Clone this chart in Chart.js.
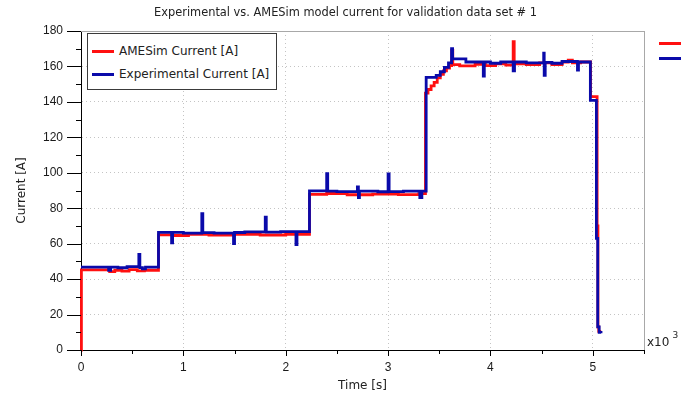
<!DOCTYPE html>
<html><head><meta charset="utf-8">
<script src="https://cdn.jsdelivr.net/npm/chart.js@4"></script>
<style>
html,body{margin:0;padding:0;background:#fff;}
#wrap{position:relative;width:691px;height:400px;font-family:"DejaVu Sans",Verdana,sans-serif;color:#222;overflow:hidden;}
#c{position:absolute;left:0;top:0;}
#title{position:absolute;left:0;width:691px;top:5px;text-align:center;font-size:11.4px;}
#legend{position:absolute;left:87px;top:33px;width:190px;height:57px;border:1px solid #3a3a3a;background:#fff;box-sizing:border-box;font-size:12px;}
.lg{position:absolute;left:0;height:14px;line-height:14px;}
.sw{position:absolute;left:4px;top:6px;width:22px;height:3px;}
.tx{position:absolute;left:31px;top:0;white-space:nowrap;}
.frag{position:absolute;left:659px;width:22px;height:3px;}
#mult{position:absolute;left:647px;top:335px;font-size:12px;white-space:nowrap;}
#mult sup{font-size:9px;vertical-align:top;position:relative;top:-5px;margin-left:3px;}
</style></head>
<body>
<div id="wrap">
<canvas id="c" width="691" height="400"></canvas>
<div id="title">Experimental vs. AMESim model current for validation data set # 1</div>
<div id="legend">
  <div class="lg" style="top:10px"><div class="sw" style="background:#ff1010"></div><div class="tx">AMESim Current [A]</div></div>
  <div class="lg" style="top:33px"><div class="sw" style="background:#0a0aaa"></div><div class="tx">Experimental Current [A]</div></div>
</div>
<div class="frag" style="top:42px;background:#ff1010"></div>
<div class="frag" style="top:57px;background:#0a0aaa"></div>
<div id="mult">x10<sup>3</sup></div>
</div>
<script>
// Time in thousands of seconds (axis multiplier x10^3)
const amesimTime = [0,0.004,0.28,0.33,0.40,0.47,0.55,0.62,0.757,0.90,1.05,1.25,1.50,1.75,2.00,2.232,2.40,2.60,2.85,3.10,3.30,3.365,3.39,3.42,3.45,3.48,3.51,3.54,3.57,3.60,3.622,3.632,3.70,3.85,3.95,4.05,4.15,4.222,4.232,4.35,4.48,4.60,4.70,4.76,4.80,4.88,4.978,5.042,5.050,5.058,5.068];
const amesimCurrent = [0,45.2,44.2,45,44.5,45.3,44.6,45,65,64.6,65.3,64.8,65.3,64.9,65.2,87.8,88.3,87.6,88,87.7,88.2,145,147,149,151,153.5,155.5,157.5,159,160.5,169,161,160.3,161.2,160.5,161.5,160.8,174,161.5,161,162,161,162.5,163.5,162,162.5,143,70,13,10.5,10];
const expTime = [0,0.27,0.29,0.36,0.45,0.565,0.575,0.60,0.63,0.757,0.885,0.895,1.00,1.18,1.19,1.30,1.49,1.50,1.60,1.80,1.81,1.95,2.10,2.11,2.232,2.40,2.41,2.50,2.70,2.71,2.72,2.90,3.00,3.01,3.15,3.31,3.33,3.372,3.47,3.51,3.55,3.59,3.62,3.63,3.76,3.93,3.94,4.00,4.10,4.222,4.235,4.35,4.52,4.525,4.535,4.60,4.70,4.85,4.86,4.976,5.035,5.048,5.062,5.08];
const expCurrent = [46.8,45,46.8,46.4,47,54,46.5,45.8,46.8,66.4,60.5,66.4,66,77,66.2,66,60,66.3,66.6,75,66.5,66.8,59.5,66.8,89.8,99.5,89.6,89.4,92,86,89.6,89.3,99.3,89.4,89.6,86,89.6,153.8,155,157,159.5,162,170,164.3,162.5,154.5,162.5,161.8,162.5,157.5,162.5,162,167.5,155,162.3,161.8,162.8,158,162.5,140.8,63,13,10,9.5];
const xMin = 0, xMax = 5.5, xStep = 0.5;
const yMin = 0, yMax = 180, yStep = 10;
const xLabelEvery = 1, yLabelEvery = 20;

const toXY = (xs, ys) => xs.map((x, i) => ({x: x, y: ys[i]}));
const isMult = (v, m) => Math.abs(v / m - Math.round(v / m)) < 1e-6;

const tickPlugin = {
  id: 'ticksFrame',
  afterDraw(chart) {
    const ctx = chart.ctx, a = chart.chartArea;
    const xs = chart.scales.x, ys = chart.scales.y;
    const L = Math.round(a.left), R = Math.round(a.right), T = Math.round(a.top), B = Math.round(a.bottom);
    ctx.save();
    ctx.fillStyle = '#a8a8a8';
    ctx.fillRect(L, T, R - L + 1, 1);
    ctx.fillRect(R, T, 1, B - T);
    ctx.fillStyle = '#000';
    for (let v = xMin; v <= xMax + 1e-9; v += xStep) {
      const px = Math.round(xs.getPixelForValue(v));
      const len = isMult(v, xLabelEvery) ? 6 : 4;
      ctx.fillRect(px, B, 1, len);
    }
    for (let v = yMin; v <= yMax + 1e-9; v += yStep) {
      const py = Math.round(ys.getPixelForValue(v));
      const len = isMult(v, yLabelEvery) ? 14 : 5;
      ctx.fillRect(L - len, py, len, 1);
    }
    ctx.restore();
  }
};

const tickFont = {family: '"Liberation Sans", Arial, sans-serif', size: 12};
const titleFont = {family: '"DejaVu Sans", Verdana, sans-serif', size: 12};
new Chart(document.getElementById('c'), {
  type: 'line',
  data: {
    datasets: [
      {label: 'AMESim Current [A]', data: toXY(amesimTime, amesimCurrent), borderColor: '#ff1010', borderWidth: 2.8, pointRadius: 0, stepped: true, order: 1, clip: false},
      {label: 'Experimental Current [A]', data: toXY(expTime, expCurrent), borderColor: '#0a0aaa', borderWidth: 2.8, pointRadius: 0, stepped: true, order: 0, clip: false}
    ]
  },
  options: {
    responsive: false, animation: false, devicePixelRatio: 1,
    layout: {padding: {top: 31, right: 47, left: 0, bottom: 0}},
    plugins: {legend: {display: false}, title: {display: false}, tooltip: {enabled: false}},
    scales: {
      x: {
        type: 'linear', min: xMin, max: xMax,
        afterFit: s => { s.height = 50; },
        ticks: {stepSize: xStep, autoSkip: false, maxRotation: 0, padding: 4, color: '#1a1a1a', font: tickFont,
          callback: v => isMult(v, xLabelEvery) ? String(Math.round(v)) : ''},
        grid: {color: c => (c.tick && isMult(c.tick.value, xLabelEvery) && c.tick.value > xMin) ? '#c4c4c4' : 'rgba(0,0,0,0)',
          lineWidth: 1, drawTicks: true, tickLength: 6, tickColor: 'rgba(0,0,0,0)'},
        border: {display: true, color: '#000', width: 1, dash: [1, 3]},
        title: {display: true, text: 'Time [s]', color: '#222', font: titleFont, padding: {top: 0, bottom: 7}}
      },
      y: {
        type: 'linear', min: yMin, max: yMax,
        afterFit: s => { s.width = 81; },
        ticks: {stepSize: yStep, autoSkip: false, padding: 3, color: '#1a1a1a', font: tickFont,
          callback: v => isMult(v, yLabelEvery) ? String(Math.round(v)) : ''},
        grid: {color: c => (c.tick && isMult(c.tick.value, yLabelEvery) && c.tick.value > yMin && c.tick.value < yMax) ? '#c4c4c4' : 'rgba(0,0,0,0)',
          lineWidth: 1, drawTicks: true, tickLength: 15, tickColor: 'rgba(0,0,0,0)'},
        border: {display: true, color: '#000', width: 1, dash: [1, 3]},
        title: {display: true, text: 'Current [A]', color: '#222', font: titleFont, padding: {top: 15, bottom: 0}}
      }
    }
  },
  plugins: [tickPlugin]
});
</script>
</body></html>
